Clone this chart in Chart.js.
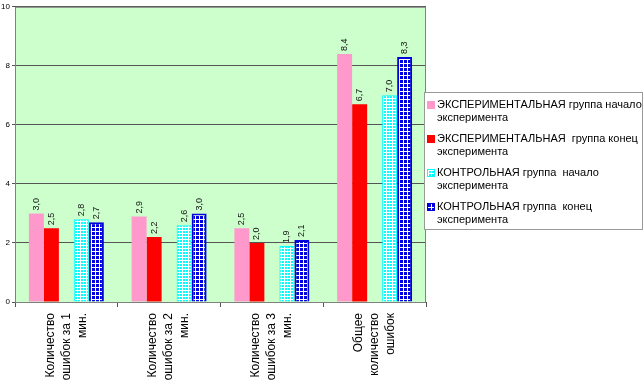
<!DOCTYPE html>
<html><head><meta charset="utf-8">
<script src="https://cdn.jsdelivr.net/npm/chart.js@4/dist/chart.umd.min.js"></script>
<style>html,body{margin:0;padding:0;background:#fff}#w{width:644px;height:384px;position:relative}</style>
</head><body><div id="w"><canvas id="c" width="644" height="384"></canvas></div>
<script>
const categories = [["Количество","ошибок за 1","мин."],["Количество","ошибок за 2","мин."],["Количество","ошибок за 3","мин."],["Общее","количество","ошибок"]];
const seriesNames = [["ЭКСПЕРИМЕНТАЛЬНАЯ группа начало","эксперимента"],["ЭКСПЕРИМЕНТАЛЬНАЯ  группа конец","эксперимента"],["КОНТРОЛЬНАЯ группа  начало","эксперимента"],["КОНТРОЛЬНАЯ группа  конец","эксперимента"]];
const expStart = [3.0, 2.9, 2.5, 8.4];
const expEnd = [2.5, 2.2, 2.0, 6.7];
const ctrlStart = [2.8, 2.6, 1.9, 7.0];
const ctrlEnd = [2.7, 3.0, 2.1, 8.3];
const yTicks = [0, 2, 4, 6, 8, 10];

const FONT = "'Liberation Sans', Arial, sans-serif";
function makePattern(bg, period) {
  const c = document.createElement('canvas'); c.width = c.height = period;
  const g = c.getContext('2d');
  g.fillStyle = bg; g.fillRect(0, 0, period, period);
  g.fillStyle = '#ffffff';
  g.fillRect(period - 1, 0, 1, period); g.fillRect(0, period - 1, period, 1);
  return g.createPattern(c, 'repeat');
}
const cyanPat = makePattern('#00ffff', 3);
const bluePat = makePattern('#0000dd', 4);
const fills = ['#ff99cc', '#ff0000', cyanPat, bluePat];

const bgPlugin = {
  id: 'bg',
  beforeDraw(chart) {
    const {ctx, chartArea: a} = chart;
    ctx.save(); ctx.fillStyle = '#ccffcc';
    ctx.fillRect(a.left, a.top, a.right - a.left, a.bottom - a.top);
    ctx.restore();
  },
  afterDraw(chart) {
    const {ctx, chartArea: a} = chart;
    ctx.save();
    ctx.strokeStyle = '#808080'; ctx.lineWidth = 1;
    ctx.strokeRect(a.left + 0.5, a.top + 0.5, a.right - a.left - 1, a.bottom - a.top);
    // value labels
    ctx.fillStyle = '#111'; ctx.font = '9px ' + FONT;
    chart.data.datasets.forEach((ds, di) => {
      const meta = chart.getDatasetMeta(di);
      meta.data.forEach((bar, i) => {
        const v = ds.data[i];
        if (v == null) return;
        ctx.save();
        ctx.translate(bar.x, bar.y - 3);
        ctx.rotate(-Math.PI / 2);
        ctx.textAlign = 'left'; ctx.textBaseline = 'middle';
        ctx.fillText(v.toFixed(1).replace('.', ','), 0, 0);
        ctx.restore();
      });
    });
    // category labels
    const xs = chart.scales.x;
    ctx.fillStyle = '#000'; ctx.font = '12px ' + FONT;
    chart.data.labels.forEach((lines, i) => {
      const cx = xs.getPixelForValue(i);
      lines.forEach((t, j) => {
        ctx.save();
        ctx.translate(cx + (j - (lines.length - 1) / 2) * 16, a.bottom + 11);
        ctx.rotate(-Math.PI / 2);
        ctx.textAlign = 'right'; ctx.textBaseline = 'middle';
        ctx.fillText(t, 0, 0);
        ctx.restore();
      });
    });
    // legend
    ctx.fillStyle = '#ffffff'; ctx.fillRect(424, 92, 219, 138);
    ctx.strokeStyle = '#999999'; ctx.strokeRect(424.5, 92.5, 218, 137);
    ctx.font = '11px ' + FONT; ctx.textAlign = 'left'; ctx.textBaseline = 'middle';
    seriesNames.forEach((lines, k) => {
      const y0 = 105 + k * 34;
      ctx.fillStyle = fills[k];
      ctx.fillRect(427, y0 - 4, 8, 8);
      if (k >= 2) { ctx.strokeStyle = k === 2 ? '#00ffff' : '#0000dd'; ctx.strokeRect(427.5, y0 - 3.5, 7, 7); }
      ctx.fillStyle = '#000';
      lines.forEach((t, j) => ctx.fillText(t, 437, y0 + j * 12.5));
    });
    ctx.restore();
  }
};

const ds = (label, data, bg, border, bw) => ({label, data, backgroundColor: bg, borderColor: border, borderWidth: bw, barPercentage: 1, categoryPercentage: 0.73});

new Chart(document.getElementById('c'), {
  type: 'bar',
  data: {
    labels: categories,
    datasets: [
      ds(seriesNames[0].join(' '), expStart, fills[0], fills[0], 0),
      ds(seriesNames[1].join(' '), expEnd, fills[1], fills[1], 0),
      ds('', [null, null, null, null], 'transparent', 'transparent', 0),
      ds(seriesNames[2].join(' '), ctrlStart, cyanPat, '#00ffff', 1),
      ds(seriesNames[3].join(' '), ctrlEnd, bluePat, '#0000dd', 2)
    ]
  },
  options: {
    responsive: false, animation: false,
    layout: {padding: {top: 3, right: 218, left: 0, bottom: 0}},
    plugins: {legend: {display: false}, tooltip: {enabled: false}},
    scales: {
      x: {
        grid: {offset: true, drawOnChartArea: false, drawTicks: true, tickLength: 5, color: '#555'},
        border: {display: true, color: '#444'},
        ticks: {display: false},
        afterFit(s) { s.height = 82; }
      },
      y: {
        min: 0, max: 10,
        afterBuildTicks(s) { s.ticks = yTicks.map(v => ({value: v})); },
        grid: {color: '#555', tickLength: 3, drawTicks: true},
        border: {display: true, color: '#444'},
        ticks: {font: {size: 8, family: FONT}, color: '#000', padding: 2},
        afterFit(s) { s.width = 15; }
      }
    }
  },
  plugins: [bgPlugin]
});
</script></body></html>
